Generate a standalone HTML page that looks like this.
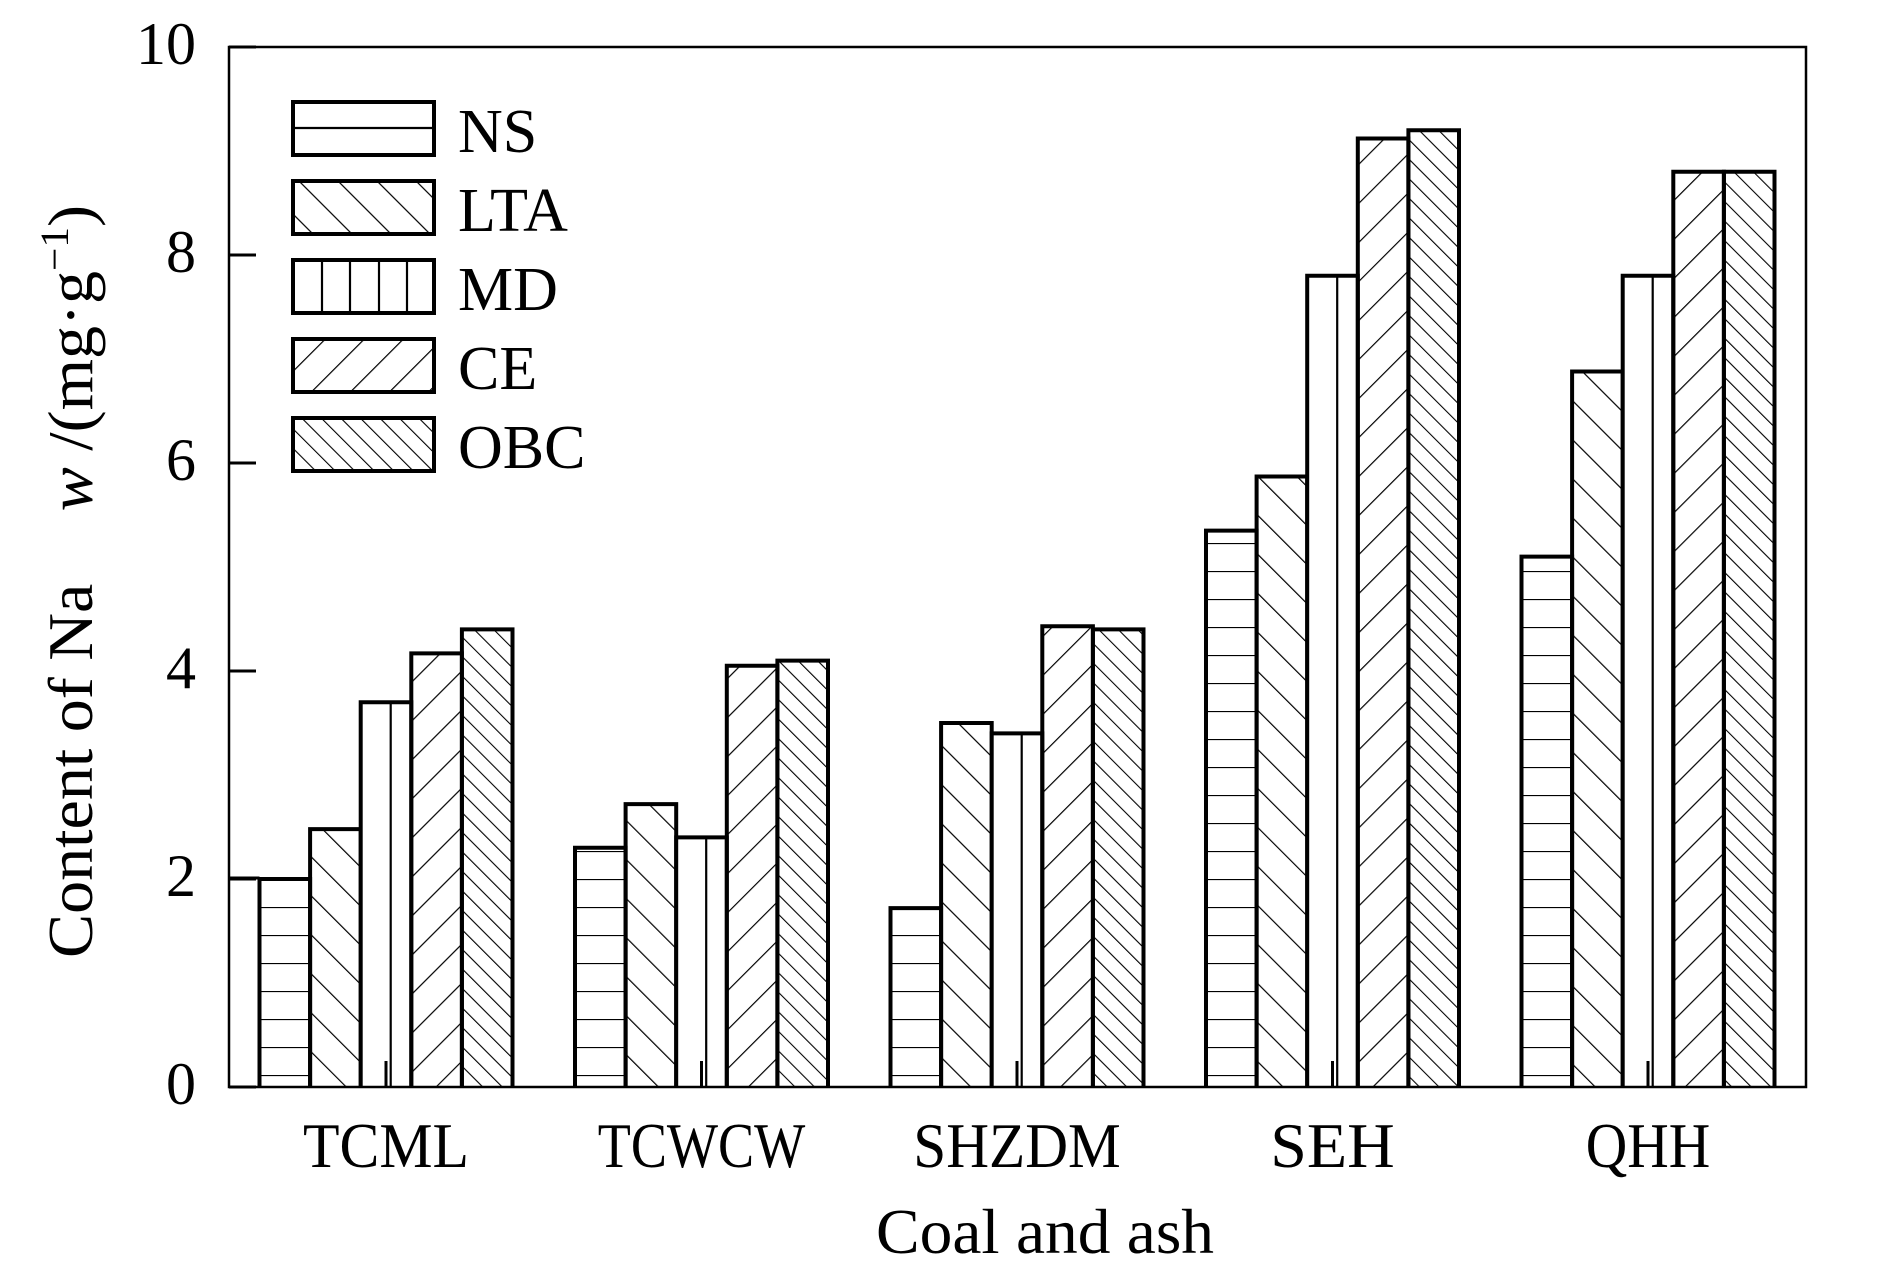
<!DOCTYPE html>
<html><head><meta charset="utf-8"><style>
html,body{margin:0;padding:0;background:#fff;}
svg{display:block;font-family:"Liberation Serif",serif;}
</style></head><body>
<svg id="chart" width="1890" height="1276" viewBox="0 0 1890 1276" xmlns="http://www.w3.org/2000/svg">
<defs>
<pattern id="p-ns" patternUnits="userSpaceOnUse" width="40" height="28" y="11"><line x1="0" y1="0" x2="40" y2="0" stroke="#000" stroke-width="2.2"/></pattern>
<pattern id="p-lta" patternUnits="userSpaceOnUse" width="27.6" height="27.6" patternTransform="rotate(-45)"><line x1="0" y1="-5" x2="0" y2="35" stroke="#000" stroke-width="2.4"/></pattern>
<pattern id="p-ce" patternUnits="userSpaceOnUse" width="27.6" height="27.6" patternTransform="rotate(45)"><line x1="0" y1="-5" x2="0" y2="35" stroke="#000" stroke-width="2.4"/></pattern>
<pattern id="p-obc" patternUnits="userSpaceOnUse" width="13.8" height="13.8" patternTransform="rotate(-45)"><line x1="0" y1="-5" x2="0" y2="20" stroke="#000" stroke-width="2.2"/></pattern>
</defs>
<g id="bars"></g>
<g id="axes"></g>
<g id="legend"></g>
<text x="1045" y="1253" font-size="64" text-anchor="middle" textLength="338" lengthAdjust="spacingAndGlyphs">Coal and ash</text>
<text transform="translate(92,958) rotate(-90)" font-size="64" textLength="753" lengthAdjust="spacingAndGlyphs">Content of Na<tspan dx="70" font-style="italic">w</tspan> /(mg·g<tspan font-size="40" dy="-24">−1</tspan><tspan dy="24">)</tspan></text>
</svg>
<script>
const categories = ["TCML","TCWCW","SHZDM","SEH","QHH"];
const seriesNames = ["NS","LTA","MD","CE","OBC"];
const NS  = [2.0, 2.3, 1.72, 5.35, 5.1];
const LTA = [2.48, 2.72, 3.5, 5.87, 6.88];
const MD  = [3.7, 2.4, 3.4, 7.8, 7.8];
const CE  = [4.17, 4.05, 4.43, 9.12, 8.8];
const OBC = [4.4, 4.1, 4.4, 9.2, 8.8];
const yTicks = [0,2,4,6,8,10];

const NS_ = "http://www.w3.org/2000/svg";
const X0=229, X1=1806, Y0=1087, Y1=47;
const yMin=0, yMax=10;
function yScale(v){return Y0-(v-yMin)/(yMax-yMin)*(Y0-Y1);}
const groupStart=386, groupStep=315.5, barW=50.6;
function xCenter(i){return groupStart+i*groupStep;}
function mk(tag,attrs,parent){const e=document.createElementNS(NS_,tag);for(const k in attrs)e.setAttribute(k,attrs[k]);parent.appendChild(e);return e;}
const series=[NS,LTA,MD,CE,OBC];
const fills=["url(#p-ns)","url(#p-lta)","#fff","url(#p-ce)","url(#p-obc)"];
const bars=document.getElementById('bars');
categories.forEach((c,i)=>{
  series.forEach((s,j)=>{
    const x=xCenter(i)+(j-2.5)*barW, y=yScale(s[i]), h=Y0-y;
    const r=mk('rect',{x:x,y:y,width:barW,height:h,fill:fills[j],stroke:'none'},bars);
    
    
    if(j===2){const l=mk('line',{x1:x+30,y1:y,x2:x+30,y2:Y0,stroke:'#000','stroke-width':2.2},bars);
      
      }
    const o=mk('path',{d:`M${x} ${Y0}V${y}H${x+barW}V${Y0}`,fill:'none',stroke:'#000','stroke-width':4,'stroke-linejoin':'miter'},bars);
    
    
  });
});
const axes=document.getElementById('axes');
const frame=mk('rect',{x:X0,y:Y1,width:X1-X0,height:Y0-Y1,fill:'none',stroke:'#000','stroke-width':2.5},axes);


const stub=mk('line',{x1:X0,y1:yScale(NS[0])-1,x2:xCenter(0)-2.5*barW,y2:yScale(NS[0])-1,stroke:'#000','stroke-width':3},axes);


yTicks.forEach(t=>{
  const y=yScale(t);
  const tk=mk('line',{x1:X0,y1:y,x2:X0+27,y2:y,stroke:'#000','stroke-width':3},axes);
  
  
  const tx=mk('text',{x:196,y:y+17,'font-size':60,'text-anchor':'end'},axes);
  tx.textContent=t;
  
  
});
categories.forEach((c,i)=>{
  const x=xCenter(i);
  const tk=mk('line',{x1:x,y1:Y0,x2:x,y2:Y0-26,stroke:'#000','stroke-width':3},axes);
  
  
  const tx=mk('text',{x:x,y:1167,'font-size':64,'text-anchor':'middle',textLength:c.length*41.5,lengthAdjust:'spacingAndGlyphs'},axes);
  tx.textContent=c;
  
  
});
const legend=document.getElementById('legend');
seriesNames.forEach((n,j)=>{
  const y=102+j*79;
  const g=mk('g',{},legend);
  
  
  mk('rect',{x:293,y:y,width:141,height:53,fill:j===2||j===0?'#fff':fills[j],stroke:'none'},g);
  if(j===0){mk('line',{x1:293,y1:y+26,x2:434,y2:y+26,stroke:'#000','stroke-width':2.2},g);}
  if(j===2){[29,57,86,114].forEach(d=>mk('line',{x1:293+d,y1:y,x2:293+d,y2:y+53,stroke:'#000','stroke-width':2.2},g));}
  mk('rect',{x:293,y:y,width:141,height:53,fill:'none',stroke:'#000','stroke-width':4},g);
  const t=mk('text',{x:458,y:y+50,'font-size':62},g);
  t.textContent=n;
});
</script>
</body></html>
